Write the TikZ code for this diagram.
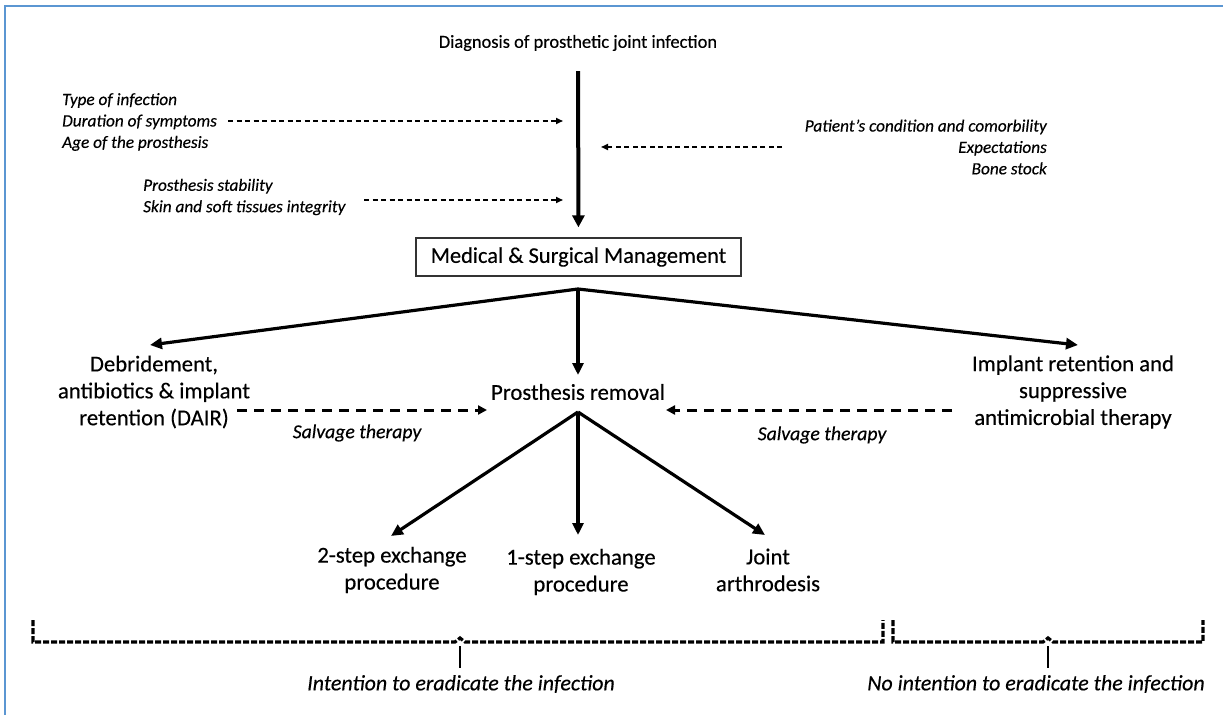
\documentclass[tikz,border=0pt]{standalone}
\usepackage{fontspec}
\setmainfont{Carlito}[FakeBold=0.35]
\usetikzlibrary{arrows.meta}
\definecolor{framec}{RGB}{91,150,210}
\begin{document}
\begin{tikzpicture}[x=1bp,y=-1bp,
  txt/.style={inner sep=0pt, align=center, font=\fontsize{22.8}{27}\selectfont},
  sidetxt/.style={inner sep=0pt, font=\fontsize{17.3}{21.5}\selectfont\itshape},
  salv/.style={inner sep=0pt, font=\fontsize{19.8}{22}\selectfont\itshape},
  bottxt/.style={inner sep=0pt, font=\fontsize{22}{27}\selectfont\itshape},
  mainarrow/.style={line width=3.2bp, -{Triangle[length=12bp,width=11bp]}},
  vertarrow/.style={line width=4bp, -{Triangle[length=12bp,width=12bp]}},
  sidearrow/.style={line width=1.6bp, dash pattern=on 5bp off 3.5bp, -{Triangle[length=7bp,width=6bp]}},
  salvarrow/.style={line width=3bp, dash pattern=on 10bp off 7bp, -{Triangle[length=9bp,width=9bp]}},
  bracedash/.style={line width=3.2bp, dash pattern=on 6bp off 2bp},
]
\useasboundingbox (0,0) rectangle (1223,715);
% frame
\draw[framec, line width=2bp] (5,715) -- (5,6) -- (1223,6);

% title and top arrow
\node[inner sep=0pt, font=\fontsize{18.5}{22}\selectfont] (title) at (578,43) {Diagnosis of prosthetic joint infection};
\node[draw=black!80, line width=1.3bp, minimum width=325bp, minimum height=38bp, inner sep=0pt, font=\fontsize{22.5}{27}\selectfont] (mgmt) at (578.5,257) {Medical \& Surgical Management};
\draw[vertarrow, shorten <=20bp, shorten >=10bp] (title) -- (mgmt);

% side factors
\node[sidetxt, anchor=west, align=left] (f1) at (62,122) {Type of infection\\Duration of symptoms\\Age of the prosthesis};
\node[sidetxt, anchor=west, align=left] (f2) at (143,197) {Prosthesis stability\\Skin and soft tissues integrity};
\node[sidetxt, anchor=east, align=right] (f3) at (1047,147) {Patient’s condition and comorbility\\Expectations\\Bone stock};
\coordinate (a1s) at (228,121); \coordinate (a1e) at (563,121);
\coordinate (a2s) at (364,200); \coordinate (a2e) at (563,200);
\coordinate (a3s) at (782,147); \coordinate (a3e) at (601,147);
\draw[sidearrow] (a1s) -- (a1e);
\draw[sidearrow] (a2s) -- (a2e);
\draw[sidearrow] (a3s) -- (a3e);

% first branching
\coordinate (b1) at (578,289);
\coordinate (t1) at (150,345);
\coordinate (t2) at (578,375);
\coordinate (t3) at (1078,345);
\draw[mainarrow] (b1) -- (t1);
\draw[mainarrow] (b1) -- (t2);
\draw[mainarrow] (b1) -- (t3);

\node[txt] (dair) at (154,392) {Debridement,\\antibiotics \& implant\\retention (DAIR)};
\node[txt] (rem) at (578,392) {Prosthesis removal};
\node[txt] (impl) at (1073,392) {Implant retention and\\suppressive\\antimicrobial therapy};

% salvage
\coordinate (s1s) at (237,410); \coordinate (s1e) at (487,410);
\coordinate (s2s) at (952,410); \coordinate (s2e) at (666,410);
\draw[salvarrow] (s1s) -- (s1e);
\draw[salvarrow] (s2s) -- (s2e);
\node[salv] (sl1) at (357,433) {Salvage therapy};
\node[salv] (sl2) at (822,435) {Salvage therapy};

% second branching
\coordinate (b2) at (578,412);
\coordinate (u1) at (391,536);
\coordinate (u2) at (578,535);
\coordinate (u3) at (765,535);
\draw[mainarrow] (b2) -- (u1);
\draw[mainarrow] (b2) -- (u2);
\draw[mainarrow] (b2) -- (u3);

\node[txt] (two) at (392,570) {2-step exchange\\procedure};
\node[txt] (one) at (581,572) {1-step exchange\\procedure};
\node[txt] (joint) at (768,570) {Joint\\arthrodesis};

% braces
\draw[bracedash] (33,620) -- (33,642) -- (455,642) -- (460,638) -- (465,642) -- (883,642) -- (883,620);
\draw[bracedash] (893,620) -- (893,642) -- (1043,642) -- (1048,638) -- (1053,642) -- (1203,642) -- (1203,620);
\coordinate (c1s) at (460,646); \coordinate (c1e) at (460,668);
\coordinate (c2s) at (1048,646); \coordinate (c2e) at (1048,668);
\draw[line width=2.5bp] (c1s) -- (c1e);
\draw[line width=2.5bp] (c2s) -- (c2e);
\node[bottxt] (int) at (461,684) {Intention to eradicate the infection};
\node[bottxt] (noint) at (1036,684) {No intention to eradicate the infection};
\end{tikzpicture}
\end{document}
